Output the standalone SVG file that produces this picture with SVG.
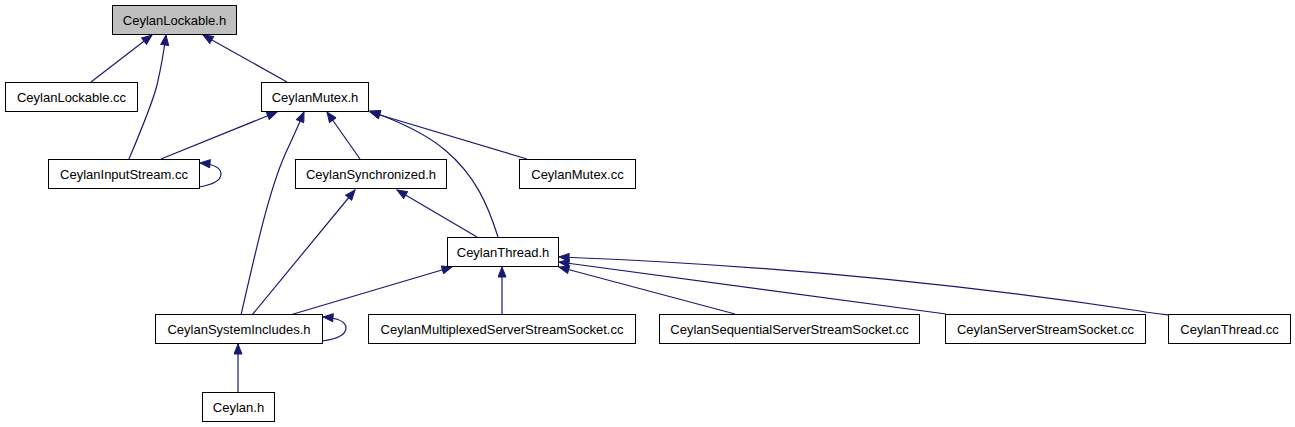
<svg xmlns="http://www.w3.org/2000/svg" width="1295" height="427" viewBox="0 0 1295 427">
<style>
.n rect{fill:#ffffff;stroke:#000000;stroke-width:1}
.n text{font-family:"Liberation Sans",Arial,sans-serif;font-size:13px;fill:#000000;text-anchor:middle}
.e path{fill:none;stroke:#191970;stroke-width:1.2;marker-end:url(#ah)}
</style>
<defs>
<marker id="ah" markerUnits="userSpaceOnUse" markerWidth="12" markerHeight="9" refX="11" refY="4.5" orient="auto">
<path d="M1,0.5 L11,4.5 L1,8.5 z" fill="#191970" stroke="#191970" stroke-width="1"/>
</marker>
</defs>
<rect width="1295" height="427" fill="#ffffff"/>
<g id="edges" class="e">
<path d="M91,82 L152,35"/>
<path d="M129,159 C142,128 153,102 157,85 C161,68 164,50 166,35"/>
<path d="M287,82 L203,35"/>
<path d="M161,159 L277,112"/>
<path d="M241,315 C256,250 270,185 288,148 C294,135 299,124 304,112"/>
<path d="M360,159 L327,112"/>
<path d="M498,237 C488,205 475,175 445,150 C425,133 395,120 370,111"/>
<path d="M527,159 L370,112"/>
<path d="M199,187 C211,185 221,181 221,174 C221,168 213,164 200,163"/>
<path d="M477,237 L397,190"/>
<path d="M252,315 L355,190"/>
<path d="M290,315 L452,267"/>
<path d="M502,315 L502,267"/>
<path d="M735,314 L559,267"/>
<path d="M946,314 L559,262"/>
<path d="M1169,315 C1160,314 1150,313 1140,311 C1000,290 800,266 559,257"/>
<path d="M322,341 C337,339 346,335 346,328 C346,322 338,318 323,317"/>
<path d="M238,392 L238,344"/>
</g>
<g id="n_lockable_h" class="n"><rect x="112.5" y="5.5" width="124" height="29" style="fill:#bfbfbf"/><text x="174.5" y="24.5">CeylanLockable.h</text></g>
<g id="n_lockable_cc" class="n"><rect x="5.5" y="82.5" width="132" height="29"/><text x="71.5" y="101.5">CeylanLockable.cc</text></g>
<g id="n_mutex_h" class="n"><rect x="261.5" y="82.5" width="107" height="29"/><text x="315" y="101.5">CeylanMutex.h</text></g>
<g id="n_inputstream_cc" class="n"><rect x="48.5" y="159.5" width="151" height="29"/><text x="124" y="178.5">CeylanInputStream.cc</text></g>
<g id="n_synchronized_h" class="n"><rect x="295.5" y="159.5" width="151" height="29"/><text x="371" y="178.5">CeylanSynchronized.h</text></g>
<g id="n_mutex_cc" class="n"><rect x="519.5" y="159.5" width="116" height="29"/><text x="577.5" y="178.5">CeylanMutex.cc</text></g>
<g id="n_thread_h" class="n"><rect x="447.5" y="237.5" width="111" height="29"/><text x="503" y="256.5">CeylanThread.h</text></g>
<g id="n_systemincludes_h" class="n"><rect x="155.5" y="314.5" width="167" height="29"/><text x="239" y="333.5">CeylanSystemIncludes.h</text></g>
<g id="n_multiplexed_cc" class="n"><rect x="368.5" y="314.5" width="267" height="29"/><text x="502" y="333.5">CeylanMultiplexedServerStreamSocket.cc</text></g>
<g id="n_sequential_cc" class="n"><rect x="659.5" y="314.5" width="260" height="29"/><text x="789.5" y="333.5">CeylanSequentialServerStreamSocket.cc</text></g>
<g id="n_serverstream_cc" class="n"><rect x="945.5" y="314.5" width="200" height="29"/><text x="1045.5" y="333.5">CeylanServerStreamSocket.cc</text></g>
<g id="n_thread_cc" class="n"><rect x="1168.5" y="314.5" width="122" height="29"/><text x="1229.5" y="333.5">CeylanThread.cc</text></g>
<g id="n_ceylan_h" class="n"><rect x="202.5" y="392.5" width="72" height="29"/><text x="238.5" y="411.5">Ceylan.h</text></g>
</svg>
